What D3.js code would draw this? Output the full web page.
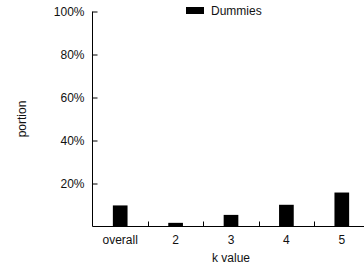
<!DOCTYPE html>
<html>
<head>
<meta charset="utf-8">
<script src="https://cdn.jsdelivr.net/npm/d3@7"></script>
<style>
body { margin: 0; background: #fff; }
svg { display: block; overflow: hidden; }
text { font-family: "Liberation Sans", Arial, sans-serif; font-size: 12px; fill: #111; }
</style>
</head>
<body>
<svg class="chart"></svg>
<script>
var categories = ["overall", "2", "3", "4", "5"];
var dummies = [0.098, 0.017, 0.054, 0.101, 0.158];
var yTicks = [0.2, 0.4, 0.6, 0.8, 1.0];

var svg = d3.select(".chart")
	.attr("width", 364)
	.attr("height", 269);

var x = d3.scaleBand()
	.domain(categories)
	.range([92.5, 369.5]);

var y = d3.scaleLinear()
	.domain([0, 1])
	.range([226.5, 11.5]);

// y axis, ticks point inward
var yAxis = svg.append("g")
	.attr("transform", "translate(92.5,0)")
	.call(d3.axisLeft(y).tickValues(yTicks).tickSize(-5).tickPadding(8).tickFormat(d3.format(".0%")));
yAxis.select(".domain").attr("d", "M0," + y(1) + "V" + y(0));
yAxis.selectAll("text").style("font-size", "12px").attr("font-family", null);

// x axis: ticks between the groups, pointing up
var xAxis = svg.append("g")
	.attr("transform", "translate(0,226.5)");
xAxis.append("path")
	.attr("d", "M92.5,0H369.5")
	.attr("stroke", "#000");
xAxis.selectAll("line")
	.data(categories.slice(1))
	.enter().append("line")
	.attr("x1", function(d) { return Math.round(x(d)) + 0.5; })
	.attr("x2", function(d) { return Math.round(x(d)) + 0.5; })
	.attr("y1", 0)
	.attr("y2", -5)
	.attr("stroke", "#000");
xAxis.selectAll("text")
	.data(categories)
	.enter().append("text")
	.attr("x", function(d) { return x(d) + x.bandwidth() / 2; })
	.attr("y", 17.5)
	.attr("text-anchor", "middle")
	.text(function(d) { return d; });

var barW = x.bandwidth() * 0.265;
svg.selectAll(".bar")
	.data(dummies)
	.enter().append("rect")
	.attr("class", "bar")
	.attr("x", function(d, i) { return x(categories[i]) + x.bandwidth() / 2 - barW / 2; })
	.attr("y", function(d) { return y(d); })
	.attr("width", barW)
	.attr("height", function(d) { return y(0) - y(d); })
	.attr("fill", "#000");

svg.append("text")
	.attr("x", 231)
	.attr("y", 262)
	.attr("text-anchor", "middle")
	.text("k value");

svg.append("text")
	.attr("transform", "translate(26,119) rotate(-90)")
	.attr("text-anchor", "middle")
	.text("portion");

// legend
svg.append("rect")
	.attr("x", 186)
	.attr("y", 7)
	.attr("width", 18)
	.attr("height", 7)
	.attr("fill", "#000");
svg.append("text")
	.attr("x", 211)
	.attr("y", 15)
	.text("Dummies");
</script>
</body>
</html>
